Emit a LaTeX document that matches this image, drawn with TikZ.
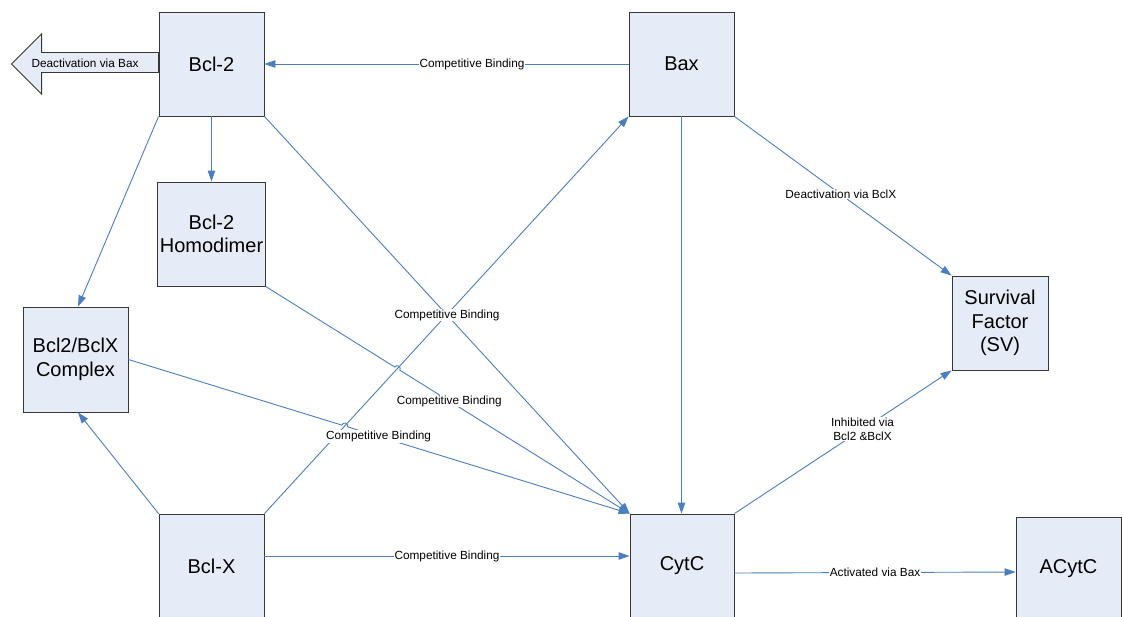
\documentclass[tikz,border=0pt]{standalone}
\usepackage{fontspec}
\setmainfont{Liberation Sans}
\usetikzlibrary{arrows.meta,calc,intersections}
\definecolor{boxfill}{RGB}{230,236,247}
\definecolor{boxline}{RGB}{55,55,55}
\definecolor{linkblue}{RGB}{74,126,193}
\begin{document}
\begin{tikzpicture}[x=1pt,y=1pt,
  entity/.style={draw=boxline, line width=0.9pt, fill=boxfill,
    minimum width=105pt, minimum height=104pt, inner sep=2pt,
    align=center, font=\fontsize{20}{23.5}\selectfont},
  link/.style={draw=linkblue, line width=0.9pt},
  flow/.style={link, -{Triangle[length=11pt,width=7.5pt]}},
  tag/.style={fill=white, inner sep=0.6pt, text=black, align=center,
    font=\fontsize{11.8}{14}\selectfont}
]
\useasboundingbox (0,0) rectangle (1123,-616);

% proteins and complexes
\node[entity] (b2)    at (211.5,-64)  {Bcl-2};
\node[entity] (bax)   at (681.5,-64)  {Bax};
\node[entity] (homo)  at (211.5,-234) {Bcl-2\\Homodimer};
\node[entity, minimum height=105pt] (cplx) at (75.5,-359.5) {Bcl2/BclX\\Complex};
\node[entity, minimum width=96pt, minimum height=94pt] (sv) at (1000,-323) {Survival\\Factor\\(SV)};
\node[entity] (bclx)  at (211.5,-566) {Bcl-X};
\node[entity, minimum width=104pt] (cytc) at (682,-566) {CytC};
\node[entity] (acytc) at (1068.5,-569) {ACytC};

% block arrow leaving Bcl-2
\begin{scope}[shift={(b2.west)}]
  \draw[draw=boxline, line width=0.9pt, fill=boxfill]
    (0,11.5) -- (-117,11.5) -- (-117,30) -- (-147,0) -- (-117,-30)
    -- (-117,-8.5) -- (0,-8.5) -- cycle;
  \node[font=\fontsize{11.8}{14}\selectfont, inner sep=0pt] (deact) at (-73.5,1) {Deactivation via Bax};
\end{scope}

% Bcl-X to Bax (drawn first so labels sit on top of it)
\path[name path=rise] (bclx.north east) -- (bax.south west);
\draw[flow] (bclx.north east) -- (bax.south west);

% crossing points that get a hop
\path[name path=homoline] (homo.south east) -- (cytc.north west);
\path[name path=cplxline] (cplx.east) -- (cytc.north west);
\path[name intersections={of=rise and homoline, by=hopA}];
\path[name intersections={of=rise and cplxline, by=hopB}];

% Bax to Bcl-2
\draw[flow] (bax.west) -- node[tag, pos=0.43] {Competitive Binding} (b2.east);

% Bcl-2 outputs
\draw[flow] (b2.south) -- (homo.north);
\draw[flow] (b2.south west) -- ($(cplx.north)+(2.5,0)$);
\draw[flow] (b2.south east) -- node[tag, pos=0.5] {Competitive Binding} (cytc.north west);

% Homodimer to CytC, hopping over the Bcl-X line
\draw[flow] (homo.south east) -- ($(hopA)!3pt!(homo.south east)$)
  arc[start angle=148.1, end angle=-31.9, radius=3pt]
  -- node[tag, pos=0.215] {Competitive Binding} (cytc.north west);

% Complex to CytC, hopping over the Bcl-X line
\draw[flow] (cplx.east) -- ($(hopB)!3pt!(cplx.east)$)
  arc[start angle=162.9, end angle=-17.1, radius=3pt]
  -- node[tag, pos=0.11] {Competitive Binding} (cytc.north west);

% Bcl-X outputs
\draw[flow] (bclx.north west) -- ($(cplx.south)+(2.5,0)$);
\draw[flow] ($(bclx.east)+(0,10)$) -- node[tag, pos=0.5] {Competitive Binding} ($(cytc.west)+(0,10)$);

% Bax outputs
\draw[flow] (bax.south) -- (bax.south |- cytc.north);
\draw[flow] (bax.south east) -- node[tag, pos=0.49] {Deactivation via BclX} (sv.north west);

% CytC outputs
\draw[flow] (cytc.north east) -- node[tag, pos=0.59] {Inhibited via\\Bcl2 \&BclX} (sv.south west);
\draw[flow] ($(cytc.east)+(0,-7)$) -- node[tag, pos=0.5] {Activated via Bax} ($(acytc.west)+(0,-3)$);
\end{tikzpicture}
\end{document}
